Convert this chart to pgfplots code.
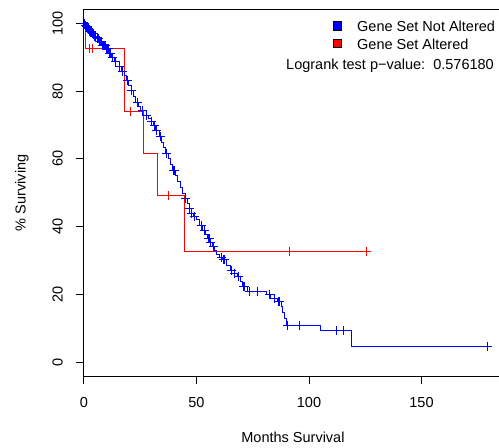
\documentclass[border=0pt]{standalone}
\usepackage{fontspec}
\setmainfont{Liberation Sans}
\usepackage{pgfplots}
\pgfplotsset{compat=1.18}
\definecolor{kmblue}{RGB}{0,0,255}
\definecolor{kmred}{RGB}{255,0,0}

% Kaplan-Meier estimate, gene set not altered (step starts)
\pgfplotstableread{
x y
0 100
0.3 99.4
0.8 98.9
1.5 98.3
2.4 97.6
3.5 96.9
4.5 96.2
5.6 95.4
6.8 94.6
8.2 93.4
9.8 92.4
11.2 91.2
12.4 89.8
13.5 88.6
15.7 87.1
16.8 85.9
17.9 84.7
19.0 83.0
20.0 81.6
20.9 80.3
22.0 78.4
23.1 76.5
24.2 75.4
25.3 74.4
27.6 72.9
28.7 72.0
29.8 71.0
31.0 69.8
32.0 68.5
33.5 66.5
34.5 64.9
35.4 63.3
36.4 61.7
37.4 60.0
38.4 58.4
39.4 56.7
40.5 55.0
41.6 53.3
42.7 51.6
43.8 49.9
44.9 48.4
46.0 46.9
46.8 45.4
47.6 44.0
48.7 43.0
49.8 42.0
51.2 40.5
52.7 39.0
53.8 37.8
54.9 36.6
56.0 35.3
57.2 34.1
58.0 32.9
58.7 31.7
60.1 31.0
61.6 30.2
63.4 28.7
65.3 27.2
66.8 26.3
68.3 25.3
69.4 23.8
70.5 22.3
72.7 21.0
80.9 19.9
83.1 18.9
86.0 17.9
87.6 16.4
88.3 14.7
89.0 13.0
89.8 11.0
105.3 9.3
118.7 4.8
179.4 4.8
}\notaltered

% censored observations, gene set not altered
\pgfplotstableread{
x y
0.2 100
0.5 99.4
0.7 99.4
1.0 98.9
1.2 98.9
1.4 98.9
1.6 98.3
1.8 98.3
2.0 98.3
2.2 98.3
2.5 97.6
2.7 97.6
2.9 97.6
3.1 97.6
3.3 97.6
3.6 96.9
3.8 96.9
4.0 96.9
4.2 96.9
4.4 96.9
4.7 96.2
4.9 96.2
5.1 96.2
5.3 96.2
5.8 95.4
6.1 95.4
6.3 95.4
6.6 95.4
6.9 94.6
7.2 94.6
7.5 94.6
7.8 94.6
8.0 94.6
8.3 93.4
8.6 93.4
9.0 93.4
9.3 93.4
9.6 93.4
10.0 92.4
10.4 92.4
10.8 92.4
11.5 91.2
12.0 91.2
12.8 89.8
14.2 88.6
15.9 87.1
17.2 85.9
19.4 83.0
21.2 80.3
23.8 76.5
25.8 74.4
28.0 72.9
30.2 71.0
31.2 69.8
32.4 68.5
33.9 66.5
34.2 66.5
36.8 61.7
39.7 56.7
40.1 56.7
45.3 48.4
47.1 45.4
47.9 44.0
49.0 43.0
52.0 40.5
53.5 39.0
55.2 36.6
55.7 36.6
56.4 35.3
57.5 34.1
60.9 31.0
61.9 30.2
62.4 30.2
65.6 27.2
67.1 26.3
68.6 25.3
70.8 22.3
71.2 22.3
73.5 21.0
77.2 21.0
82.4 19.9
84.6 18.9
86.3 17.9
86.8 17.9
90.5 11.0
95.7 11.0
112.0 9.3
115.4 9.3
179.4 4.8
}\notalteredcens

% Kaplan-Meier estimate, gene set altered
\pgfplotstableread{
x y
0 100
0.6 92.5
18.0 74.0
26.5 61.7
32.7 49.1
44.6 32.8
125.6 32.8
}\altered

\pgfplotstableread{
x y
2.5 92.5
4.0 92.5
20.6 74.0
37.5 49.1
91.3 32.8
125.6 32.8
}\alteredcens

\begin{document}
\begin{tikzpicture}[font=\fontsize{14.5pt}{17pt}\selectfont]
\useasboundingbox (0,0) rectangle (499pt,448pt);
\begin{axis}[
  at={(84pt,72pt)}, anchor=south west,
  scale only axis, width=430pt, height=366.4pt,
  xmin=0, xmax=191.11, ymin=-4, ymax=104,
  xtick={0,50,100,150}, ytick={0,20,...,100},
  tick pos=left, tick align=outside,
  major tick length=8pt,
  axis line style={line width=1pt},
  every tick/.style={black, line width=1pt},
  /pgf/number format/assume math mode=true,
  tick label style={font=\fontsize{14.5pt}{17pt}\selectfont},
  xticklabel style={anchor=north, inner sep=0pt, yshift=-13pt},
  yticklabel style={rotate=90, anchor=south, inner sep=0pt, yshift=13pt},
  xlabel={Months Survival}, ylabel={\% Surviving},
  label style={font=\fontsize{14.5pt}{17pt}\selectfont},
  xlabel style={at={(axis description cs:0.486,0)}, anchor=base, inner sep=0pt, yshift=-66.5pt},
  ylabel style={at={(axis description cs:0,0.5)}, anchor=center, inner sep=0pt, yshift=62pt},
  clip=false,
]
\addplot[draw=kmred, line width=1pt, const plot] table {\altered};
\addplot[draw=kmred, only marks, mark=+, mark size=4.5pt, mark options={draw=kmred, line width=1pt}] table {\alteredcens};
\addplot[draw=kmblue, line width=1pt, const plot] table {\notaltered};
\addplot[draw=kmblue, only marks, mark=+, mark size=4.5pt, mark options={draw=kmblue, line width=1pt}] table {\notalteredcens};
\end{axis}
% legend
\draw[fill=kmblue, line width=0.8pt] (333.1pt,417.8pt) rectangle ++(8.4pt,8.4pt);
\draw[fill=kmred, line width=0.8pt] (333.1pt,400.5pt) rectangle ++(8.4pt,8.4pt);
\node[anchor=base west, inner sep=0pt] at (357pt,416.8pt) {Gene Set Not Altered};
\node[anchor=base west, inner sep=0pt] at (357pt,398.8pt) {Gene Set Altered};
\node[anchor=base east, inner sep=0pt] at (494pt,378.8pt) {Logrank test p−value:\ \ 0.576180};
\end{tikzpicture}
\end{document}
